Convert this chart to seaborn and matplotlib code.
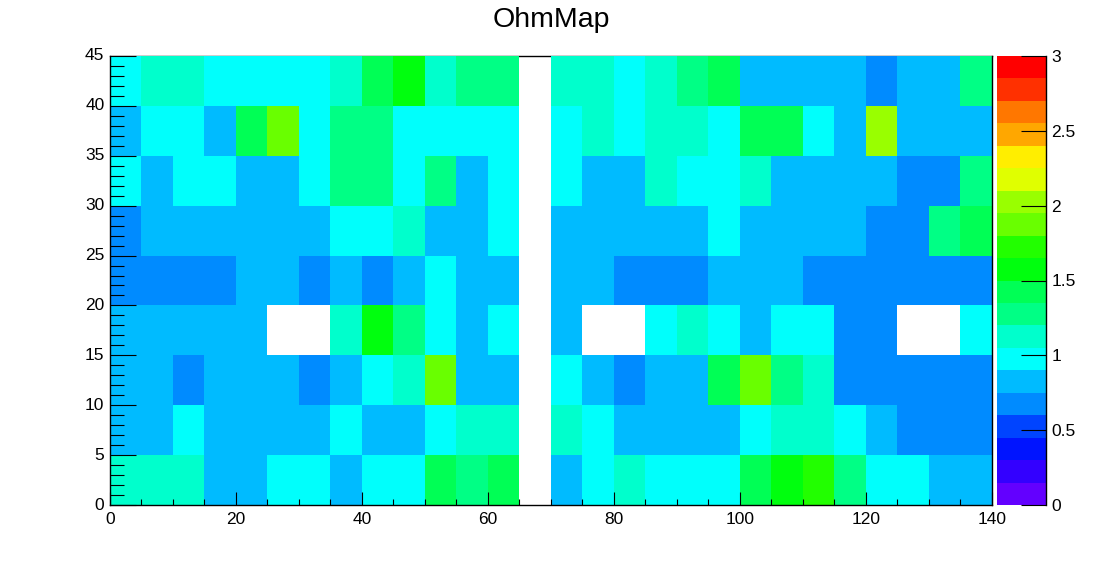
import numpy as np
import pandas as pd
import matplotlib
matplotlib.use("Agg")
import matplotlib.pyplot as plt
import seaborn as sns
import colorsys
from matplotlib.colors import ListedColormap
from matplotlib.ticker import MultipleLocator, FuncFormatter

nan = np.nan

# bins: x 0..140 step 5 (28 bins), y 0..45 step 5 (9 bins)
x_bin_low = [0, 5, 10, 15, 20, 25, 30, 35, 40, 45, 50, 55, 60, 65,
             70, 75, 80, 85, 90, 95, 100, 105, 110, 115, 120, 125, 130, 135]
y_bin_low = [0, 5, 10, 15, 20, 25, 30, 35, 40]

# cell values, one list per y bin (bottom to top); nan = empty bin
row_y0 = [1.13, 1.13, 1.13, 0.83, 0.83, 0.98, 0.98, 0.83, 0.98, 0.98, 1.43, 1.28, 1.43, nan,
          0.83, 0.98, 1.13, 0.98, 0.98, 0.98, 1.43, 1.58, 1.73, 1.28, 0.98, 0.98, 0.83, 0.83]
row_y5 = [0.83, 0.83, 0.98, 0.83, 0.83, 0.83, 0.83, 0.98, 0.83, 0.83, 0.98, 1.13, 1.13, nan,
          1.13, 0.98, 0.83, 0.83, 0.83, 0.83, 0.98, 1.13, 1.13, 0.98, 0.83, 0.68, 0.68, 0.68]
row_y10 = [0.83, 0.83, 0.68, 0.83, 0.83, 0.83, 0.68, 0.83, 0.98, 1.13, 1.88, 0.83, 0.83, nan,
           0.98, 0.83, 0.68, 0.83, 0.83, 1.43, 1.88, 1.28, 1.13, 0.68, 0.68, 0.68, 0.68, 0.68]
row_y15 = [0.83, 0.83, 0.83, 0.83, 0.83, nan, nan, 1.13, 1.58, 1.28, 0.98, 0.83, 0.98, nan,
           0.83, nan, nan, 0.98, 1.13, 0.98, 0.83, 0.98, 0.98, 0.68, 0.68, nan, nan, 0.98]
row_y20 = [0.68, 0.68, 0.68, 0.68, 0.83, 0.83, 0.68, 0.83, 0.68, 0.83, 0.98, 0.83, 0.83, nan,
           0.83, 0.83, 0.68, 0.68, 0.68, 0.83, 0.83, 0.83, 0.68, 0.68, 0.68, 0.68, 0.68, 0.68]
row_y25 = [0.68, 0.83, 0.83, 0.83, 0.83, 0.83, 0.83, 0.98, 0.98, 1.13, 0.83, 0.83, 0.98, nan,
           0.83, 0.83, 0.83, 0.83, 0.83, 0.98, 0.83, 0.83, 0.83, 0.83, 0.68, 0.68, 1.28, 1.43]
row_y30 = [0.98, 0.83, 0.98, 0.98, 0.83, 0.83, 0.98, 1.28, 1.28, 0.98, 1.28, 0.83, 0.98, nan,
           0.98, 0.83, 0.83, 1.13, 0.98, 0.98, 1.13, 0.83, 0.83, 0.83, 0.83, 0.68, 0.68, 1.28]
row_y35 = [0.83, 0.98, 0.98, 0.83, 1.43, 1.88, 0.98, 1.28, 1.28, 0.98, 0.98, 0.98, 0.98, nan,
           0.98, 1.13, 0.98, 1.13, 1.13, 0.98, 1.43, 1.43, 0.98, 0.83, 2.03, 0.83, 0.83, 0.83]
row_y40 = [0.98, 1.13, 1.13, 0.98, 0.98, 0.98, 0.98, 1.13, 1.43, 1.58, 1.13, 1.28, 1.28, nan,
           1.13, 1.13, 0.98, 1.13, 1.28, 1.43, 0.83, 0.83, 0.83, 0.83, 0.68, 0.83, 0.83, 1.28]

z_min, z_max = 0.0, 3.0
cbar_ticks = [0, 0.5, 1, 1.5, 2, 2.5, 3]
title = "OhmMap"

# ROOT "pretty palette" hues (violet -> red), 20 contour levels
palette_hues = [263.2, 252, 235.2, 224, 207.2, 196, 179.2, 168, 151.2, 140,
                123.2, 112, 95.2, 84, 67.2, 56, 39.2, 28, 11.2, 0]
colors = [colorsys.hls_to_rgb(h / 360.0, 0.5, 1.0) for h in palette_hues]
cmap = ListedColormap(colors)

df = pd.DataFrame([row_y0, row_y5, row_y10, row_y15, row_y20, row_y25,
                   row_y30, row_y35, row_y40], index=y_bin_low, columns=x_bin_low)

plt.rcParams["font.family"] = ["Liberation Sans", "DejaVu Sans"]

W, H = 1102, 562
fig = plt.figure(figsize=(W / 100, H / 100), dpi=100)
fig.patch.set_facecolor("white")
ax = fig.add_axes([110 / W, 57 / H, 882 / W, 449 / H])
cax = fig.add_axes([997 / W, 57 / H, 49 / W, 449 / H])

sns.heatmap(df, ax=ax, cmap=cmap, vmin=z_min, vmax=z_max, mask=df.isna(),
            cbar=True, cbar_ax=cax, linewidths=0, square=False)

# numeric axes: one cell = 5 units
ax.set_ylim(0, len(y_bin_low))
ax.set_xlim(0, len(x_bin_low))
for s in ax.spines.values():
    s.set_visible(True)
    s.set_color("black")
    s.set_linewidth(1.0)
ax.spines["top"].set_zorder(0.5)

ax.xaxis.set_major_locator(MultipleLocator(4))
ax.xaxis.set_minor_locator(MultipleLocator(1))
ax.xaxis.set_major_formatter(FuncFormatter(lambda v, p: f"{v * 5:g}"))
ax.yaxis.set_major_locator(MultipleLocator(1))
ax.yaxis.set_minor_locator(MultipleLocator(0.2))
ax.yaxis.set_major_formatter(FuncFormatter(lambda v, p: f"{v * 5:g}"))
ax.set_xlabel("")
ax.set_ylabel("")
for lab in ax.get_xticklabels() + ax.get_yticklabels():
    lab.set_rotation(0)

ax.tick_params(axis="both", which="both", direction="in", colors="black",
               width=0.8, labelsize=12.5, top=False, right=False)
ax.tick_params(axis="x", which="major", length=9.5, pad=5)
ax.tick_params(axis="x", which="minor", length=4.5)
ax.tick_params(axis="y", which="major", length=19, pad=4)
ax.tick_params(axis="y", which="minor", length=10)

cbar = ax.collections[0].colorbar
cbar.outline.set_visible(False)
cax.spines["right"].set_visible(True)
cax.spines["right"].set_color("black")
cax.spines["right"].set_linewidth(1.0)
cbar.set_ticks(cbar_ticks)
cbar.ax.yaxis.set_major_formatter(FuncFormatter(lambda v, p: f"{v:g}"))
cbar.minorticks_off()
cax.tick_params(axis="y", direction="in", length=18, width=0.8, colors="black",
                labelsize=12.5, pad=4, right=True, left=False,
                labelright=True, labelleft=False)

fig.text(551 / W, 1 - 20 / H, title, ha="center", va="center", fontsize=20.5)

fig.savefig("out.png", dpi=100)
